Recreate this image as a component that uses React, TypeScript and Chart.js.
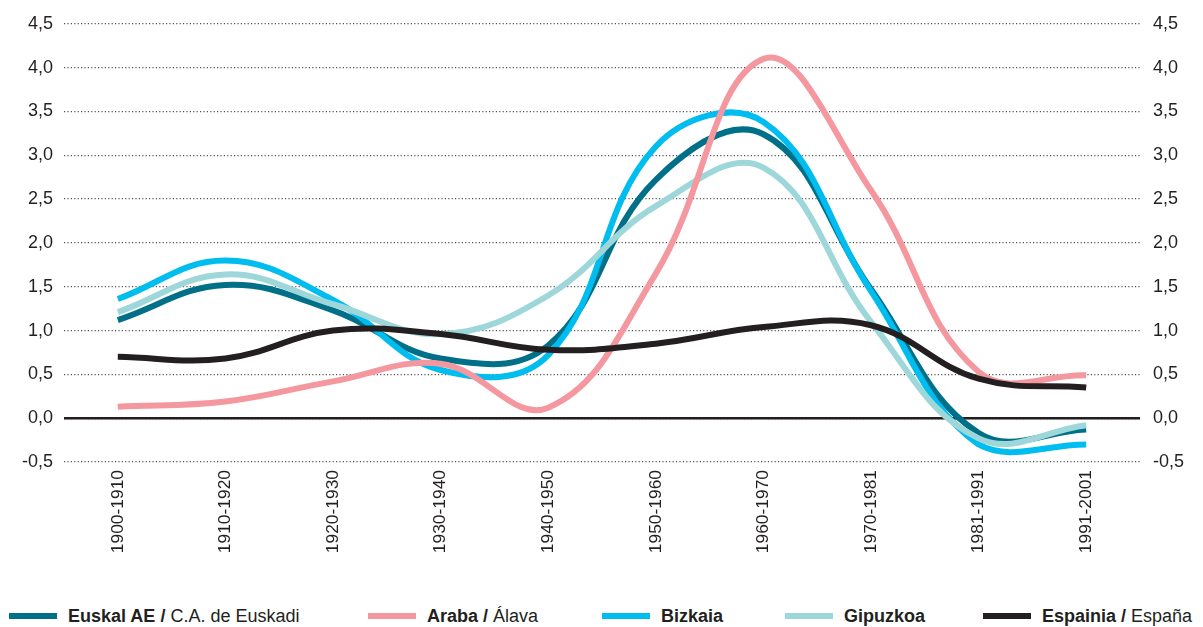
import React, { useEffect, useRef } from "react";
import { Chart, registerables } from "chart.js";

Chart.register(...registerables);

const categories = [
  "1900-1910",
  "1910-1920",
  "1920-1930",
  "1930-1940",
  "1940-1950",
  "1950-1960",
  "1960-1970",
  "1970-1981",
  "1981-1991",
  "1991-2001",
];

const euskalAE = [1.12, 1.52, 1.23, 0.68, 0.83, 2.72, 3.24, 1.47, -0.17, -0.13];
const araba = [0.13, 0.19, 0.42, 0.62, 0.12, 1.65, 4.1, 2.6, 0.53, 0.49];
const bizkaia = [1.36, 1.8, 1.35, 0.55, 0.72, 3.1, 3.38, 1.45, -0.3, -0.3];
const gipuzkoa = [1.21, 1.64, 1.3, 0.96, 1.4, 2.42, 2.86, 1.1, -0.23, -0.08];
const espainia = [0.7, 0.68, 1.0, 0.96, 0.78, 0.85, 1.04, 1.06, 0.45, 0.35];

const yMin = -0.5;
const yMax = 4.5;
const yStep = 0.5;

const COLORS = {
  euskal: "#006F88",
  araba: "#F4979F",
  bizkaia: "#00BDF0",
  gipuzkoa: "#9DD7DA",
  espainia: "#231F20",
};

const legendItems = [
  { bold: "Euskal AE", normal: "C.A. de Euskadi", color: COLORS.euskal, left: 9 },
  { bold: "Araba", normal: "Álava", color: COLORS.araba, left: 368 },
  { bold: "Bizkaia", normal: "", color: COLORS.bizkaia, left: 602 },
  { bold: "Gipuzkoa", normal: "", color: COLORS.gipuzkoa, left: 785 },
  { bold: "Espainia", normal: "España", color: COLORS.espainia, left: 983 },
];

const FONT = "'Liberation Sans', Arial, Helvetica, sans-serif";
const TEXT = "#231F20";

const zeroLinePlugin = {
  id: "zeroLine",
  beforeDatasetsDraw(chart: any) {
    const ctx = chart.ctx;
    const y = chart.scales.y.getPixelForValue(0);
    const { left, right } = chart.chartArea;
    ctx.save();
    ctx.strokeStyle = TEXT;
    ctx.lineWidth = 2.5;
    ctx.beginPath();
    ctx.moveTo(left, y);
    ctx.lineTo(right, y);
    ctx.stroke();
    ctx.restore();
  },
};

const fmt = (v: any) => Number(v).toFixed(1).replace(".", ",");

export default function App() {
  const ref = useRef<HTMLCanvasElement>(null);

  useEffect(() => {
    document.body.style.margin = "0";
    const canvas = ref.current;
    if (!canvas) return;
    const mk = (label: string, data: number[], color: string, order: number) => ({
      label,
      data,
      borderColor: color,
      backgroundColor: color,
      borderWidth: 6,
      pointRadius: 0,
      pointHoverRadius: 0,
      tension: 0.4,
      fill: false,
      borderCapStyle: "butt",
      order,
    });
    const chart = new Chart(canvas, {
      type: "line",
      data: {
        labels: categories,
        datasets: [
          mk("Euskal AE / C.A. de Euskadi", euskalAE, COLORS.euskal, 5),
          mk("Araba / Álava", araba, COLORS.araba, 2),
          mk("Bizkaia", bizkaia, COLORS.bizkaia, 4),
          mk("Gipuzkoa", gipuzkoa, COLORS.gipuzkoa, 3),
          mk("Espainia / España", espainia, COLORS.espainia, 1),
        ] as any,
      },
      options: {
        animation: false,
        responsive: false,
        maintainAspectRatio: false,
        layout: { padding: { top: 20, left: 0, right: 0, bottom: 0 } },
        plugins: {
          legend: { display: false },
          tooltip: { enabled: false },
        },
        scales: {
          x: {
            type: "category",
            offset: true,
            grid: { display: false, drawTicks: false },
            border: { display: false },
            ticks: {
              minRotation: 90,
              maxRotation: 90,
              autoSkip: false,
              padding: 8,
              color: TEXT,
              font: { family: FONT, size: 17.4 },
            },
            afterFit(scale: any) {
              scale.height = 118;
            },
          },
          y: {
            position: "left",
            min: yMin,
            max: yMax,
            grid: {
              color: "#555",
              lineWidth: 1.2,
              drawTicks: false,
            },
            border: { display: false, dash: [1.2, 2.2] },
            ticks: {
              stepSize: yStep,
              padding: 11,
              color: TEXT,
              font: { family: FONT, size: 18 },
              callback: (v: any) => fmt(v),
            },
            afterFit(scale: any) {
              scale.width = 64;
            },
          },
          y2: {
            position: "right",
            min: yMin,
            max: yMax,
            grid: { drawOnChartArea: false, drawTicks: false },
            border: { display: false },
            ticks: {
              stepSize: yStep,
              padding: 13,
              color: TEXT,
              font: { family: FONT, size: 18 },
              callback: (v: any) => fmt(v),
            },
            afterFit(scale: any) {
              scale.width = 63;
            },
          },
        },
      } as any,
      plugins: [zeroLinePlugin],
    });
    return () => chart.destroy();
  }, []);

  return (
    <div style={{ position: "relative", width: 1203, height: 627, background: "#fff", overflow: "hidden" }}>
      <canvas ref={ref} width={1203} height={580} style={{ display: "block", width: 1203, height: 580 }} />
      {legendItems.map((it) => (
        <div
          key={it.bold}
          style={{
            position: "absolute",
            left: it.left,
            top: 604,
            height: 24,
            display: "flex",
            alignItems: "center",
            fontFamily: FONT,
            fontSize: 18,
            color: TEXT,
            whiteSpace: "nowrap",
          }}
        >
          <span style={{ display: "inline-block", width: 48, height: 6, background: it.color, marginRight: 11 }} />
          <span>
            <b>{it.bold}</b>
            {it.normal ? (
              <>
                <b> / </b>
                {it.normal}
              </>
            ) : null}
          </span>
        </div>
      ))}
    </div>
  );
}
